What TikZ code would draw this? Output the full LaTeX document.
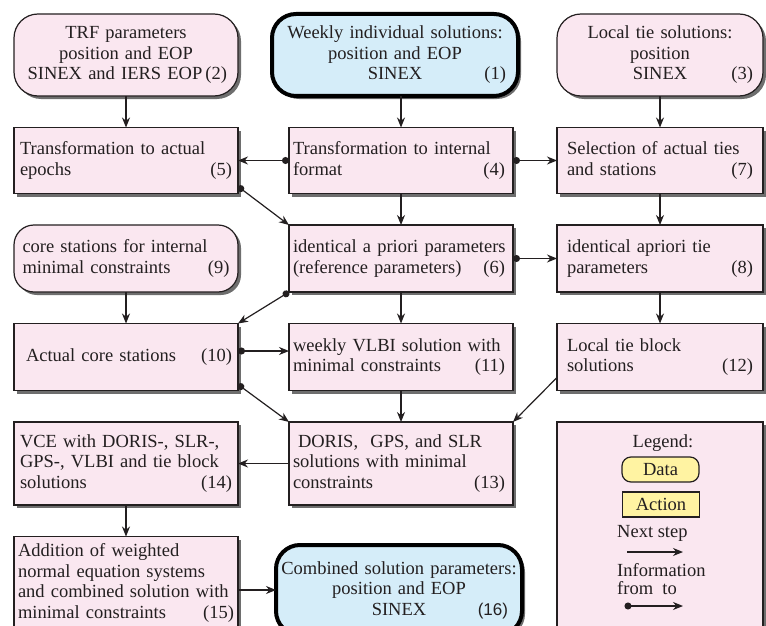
\documentclass[tikz,border=0pt]{standalone}
\usepackage{fontspec}
\setmainfont{Liberation Serif}
\setsansfont{Liberation Sans}
\usepackage{xcolor}
\usepackage{tikz}
\usetikzlibrary{positioning, arrows.meta, calc, shadows}
\definecolor{blush}{HTML}{FAE7F0}
\definecolor{sky}{HTML}{D5EDF9}
\definecolor{butter}{HTML}{FFF3A2}
\definecolor{ink}{HTML}{231F20}
\definecolor{shade}{HTML}{6E6E6E}
\hyphenpenalty=10000

\begin{document}
\begin{tikzpicture}[
  x=1pt, y=-1pt,
  font=\fontsize{18.5}{20.5}\selectfont, text=ink,
  node distance=31.5pt and 51pt,
  box/.style={draw=ink, line width=1.2pt, fill=blush, outer sep=0pt,
              drop shadow={shadow xshift=3pt, shadow yshift=-3pt,
                           fill=shade, opacity=1}},
  action/.style={box, rectangle, align=left, inner ysep=2pt},
  data/.style={box, rounded corners=24pt, align=center, inner ysep=2pt},
  result/.style={data, fill=sky, draw=black, line width=4pt,
                 text width=238pt, inner xsep=4pt},
  colA/.style={text width=212pt, inner xsep=6pt},
  colB/.style={text width=216pt, inner xsep=4pt},
  colC/.style={text width=186pt, inner xsep=10pt},
  sample/.style={draw=ink, line width=1.2pt, fill=butter,
                 minimum width=77pt, minimum height=25pt, inner sep=0pt},
  next/.style={-{Stealth[length=10pt, width=8pt]}, line width=1.2pt, draw=ink},
  info/.style={{Circle[length=7pt]}-{Stealth[length=10pt, width=8pt]},
               line width=1.2pt, draw=ink}
]
\clip[use as bounding box] (0,0) rectangle (766,626);
% Input data
\node[data, colA, minimum height=82pt] (b2) at (126,55)
  {TRF parameters\hspace*{22pt}\\position and EOP\hspace*{22pt}\\
   SINEX and IERS EOP\rlap{\,(2)}\hspace*{22pt}};
\node[result, minimum height=82pt] (b1) at (395,55)
  {Weekly individual solutions:\\position and EOP\\
   \hspace*{\fill}SINEX\hspace*{\fill}\llap{(1)\hspace*{8pt}}};
\node[data, colC, minimum height=82pt] (b3) at (660,55)
  {Local tie solutions:\\position\\
   \hspace*{\fill}SINEX\hspace*{\fill}\llap{(3)}};
% Second row
\node[action, colA, minimum height=66pt, below=of b2] (b5)
  {Transformation to actual\\epochs\hfill(5)};
\node[action, colB, minimum height=66pt, anchor=north] (b4) at (401,127.5)
  {Transformation to internal\\format\hfill(4)\hspace*{4pt}};
\node[action, colC, minimum height=66pt, below=of b3] (b7)
  {Selection of actual ties\\and stations\hfill(7)};
% Third row
\node[data, align=left, text width=207pt, inner xsep=8.5pt,
      rounded corners=20pt, minimum height=67pt, below=of b5] (b9)
  {core stations for internal\\minimal constraints\hfill(9)};
\node[action, colB, minimum height=67pt, below=of b4] (b6)
  {identical a priori parameters\\(reference parameters)\hfill(6)\hspace*{4pt}};
\node[action, colC, minimum height=67pt, below=of b7] (b8)
  {identical apriori tie\\parameters\hfill(8)};
% Fourth row
\node[action, colA, minimum height=67pt, below=of b9] (b10)
  {\hspace*{6pt}Actual core stations\hfill(10)};
\node[action, colB, minimum height=67pt, below=of b6] (b11)
  {weekly VLBI solution with\\minimal constraints\hfill(11)\hspace*{4pt}};
\node[action, colC, minimum height=67pt, below=of b8] (b12)
  {Local tie block\\solutions\hfill(12)};
% Fifth row
\node[action, colA, minimum height=83pt, below=of b10] (b14)
  {VCE with DORIS-, SLR-,\\GPS-, VLBI and tie block\\solutions\hfill(14)};
\node[action, colB, minimum height=83pt, below=of b11] (b13)
  {\hspace*{5pt}DORIS,~ GPS, and SLR\\solutions with minimal\\
   constraints\hfill(13)\hspace*{4pt}};
% Last row
\node[action, text width=216pt, inner xsep=4pt, minimum height=93pt,
      below=of b14] (b15)
  {Addition of weighted\\normal equation systems\\
   and combined solution with\\minimal constraints\hfill(15)};
\node[result, minimum height=90pt] (b16) at (399,590)
  {Combined solution parameters:\\position and EOP\\
   \hspace*{\fill}SINEX\hspace*{\fill}\llap{\sffamily\fontsize{17}{20}\selectfont(16)\hspace*{10pt}}};
% Legend
\node[box, rectangle, minimum width=206pt, minimum height=218pt,
      below=of b12] (legend) {};
\node (legtitle) at ($(legend.north)+(3,21)$) {Legend:};
\node[sample, rounded corners=9pt] (legdata) at ($(legend.north)+(0.5,47.5)$) {Data};
\node[sample] (legaction) at ($(legend.north)+(1,82.5)$) {Action};
\node[anchor=west, inner sep=0pt] (legnext) at ($(legend.north)+(-43,111)$) {Next step};
\coordinate (n1) at ($(legend.north)+(-33,130)$);
\coordinate (n2) at ($(legend.north)+(23,130)$);
\node[anchor=west, align=left, inner sep=0pt,
      font=\fontsize{18.5}{18}\selectfont] (leginfo)
  at ($(legend.north)+(-43,157)$) {Information\\from~~to};
\coordinate (i1) at ($(legend.north)+(-35.5,184)$);
\coordinate (i2) at ($(legend.north)+(23,184)$);
\draw[next] (n1) -- (n2);
\draw[info] (i1) -- (i2);
% Next steps
\draw[next] (b2) -- (b5);
\draw[next] (b4.north |- b1.south) -- (b4.north);
\draw[next] (b3) -- (b7);
\draw[next] (b4) -- (b6);
\draw[next] (b7) -- (b8);
\draw[next] (b9) -- (b10);
\draw[next] (b6) -- (b11);
\draw[next] (b8) -- (b12);
\draw[next] (b11) -- (b13);
\draw[next] (b13) -- (b14);
\draw[next] (b14) -- (b15);
\draw[next] (b15.east |- b16.west) -- (b16.west);
\draw[next] ([yshift=13pt]b12.south west) -- (b13.north east);
% Information flow
\draw[info] (b4) -- (b5);
\draw[info] (b4) -- (b7);
\draw[info] (b6) -- (b8);
\draw[info] ([yshift=7pt]b5.south east) -- (b6.north west);
\draw[info] (b6.south west) -- (b10.north east);
\draw[info] ([yshift=6pt]b10.east) -- ([yshift=6pt]b11.west);
\draw[info] ([yshift=6pt]b10.south east) -- (b13.north west);
\end{tikzpicture}
\end{document}
